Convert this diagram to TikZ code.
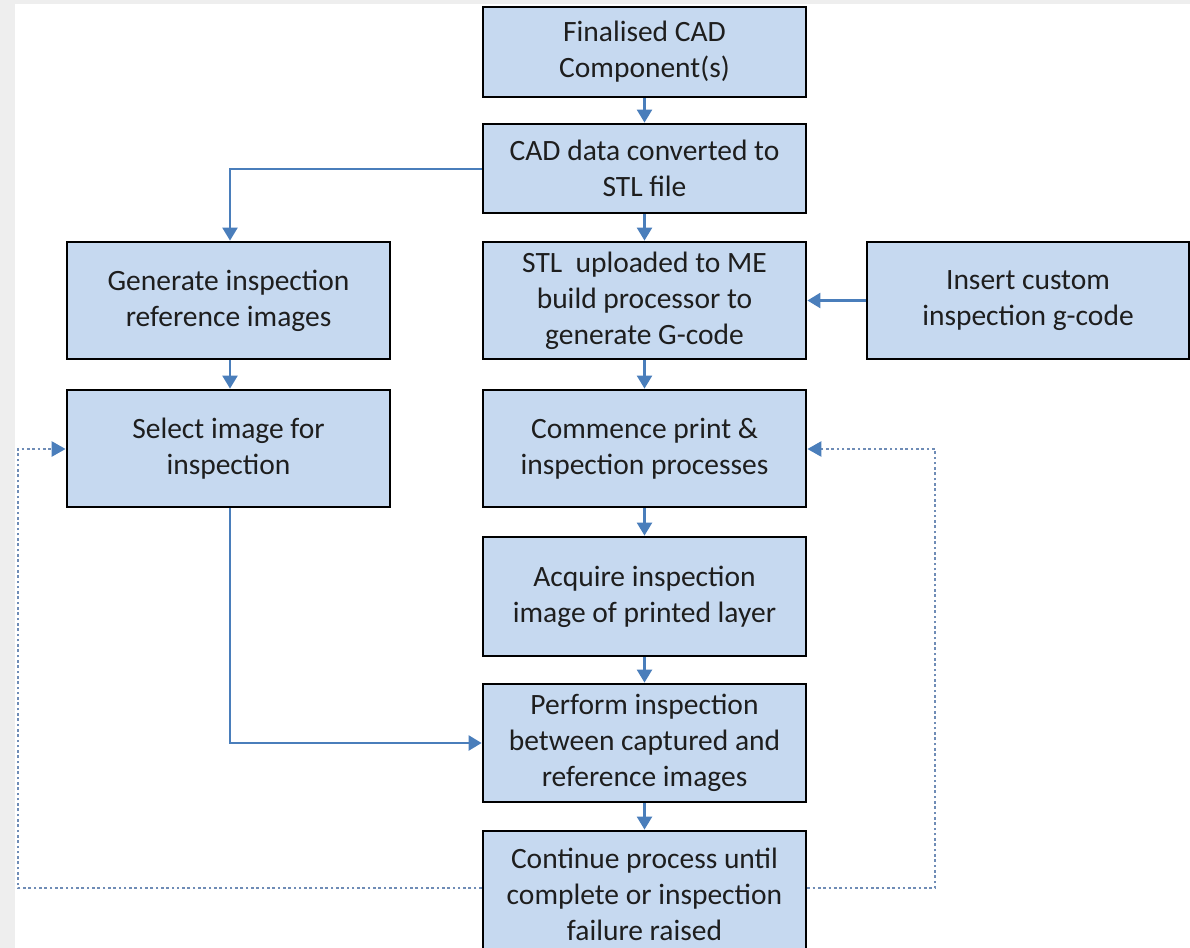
\documentclass[tikz,border=0pt]{standalone}
\usepackage{fontspec}
\setmainfont{Carlito}
\usetikzlibrary{arrows.meta}
\definecolor{boxfill}{HTML}{C6D9F0}
\definecolor{arrowblue}{HTML}{4A7EBB}
\definecolor{dotblue}{HTML}{6F8CB6}
\definecolor{bggray}{HTML}{EEEEEE}
\definecolor{txt}{HTML}{1E1E1E}
\tikzset{
  box/.style={draw=black, line width=2.8bp, fill=boxfill, minimum width=323bp,
    align=center, text=txt, inner sep=2bp,
    font=\fontsize{29.5bp}{36bp}\selectfont},
  flow/.style={draw=arrowblue, line width=2.4bp, -{Triangle[width=15bp,length=13bp]}},
  loopback/.style={draw=dotblue, line width=2.6bp, dash pattern=on 2.6bp off 2.7bp,
    -{Triangle[width=15bp,length=14bp,color=arrowblue]}}
}
\begin{document}
\begin{tikzpicture}[x=1bp,y=-1bp]
\useasboundingbox (0,0) rectangle (1190,948);
\fill[bggray] (0,0) rectangle (1190,948);
\fill[white] (15,4) rectangle (1190,948);

\node[box, minimum height=90bp] (b1) at (644.5,52) {Finalised CAD\\Component(s)};
\node[box, minimum height=89bp] (b2) at (644.5,168.5) {CAD data converted to\\STL file};
\node[box, minimum height=117bp] (b3) at (644.5,300.5) {STL\ \ uploaded to ME\\build processor to\\generate G-code};
\node[box, minimum height=117bp] (b4) at (644.5,448.5) {Commence print \&\\inspection processes};
\node[box, minimum height=119bp] (b5) at (644.5,596.5) {Acquire inspection\\image of printed layer};
\node[box, minimum height=118bp] (b6) at (644.5,743) {Perform inspection\\between captured and\\reference images};
\node[box, minimum height=126bp] (b7) at (644.5,894) {Continue process until\\complete or inspection\\failure raised};

\node[box, minimum height=117bp] (l1) at (228.5,300.5) {Generate inspection\\reference images};
\node[box, minimum height=117bp] (l2) at (228.5,448.5) {Select image for\\inspection};

\node[box, minimum height=117bp, minimum width=322bp] (r1) at (1028,300.5) {Insert custom\\inspection g-code};

\coordinate (lc) at (230,169);
\coordinate (lb) at (230,743);
\coordinate (dl1) at (18,888);
\coordinate (dl2) at (18,449);
\coordinate (dr1) at (935,888);
\coordinate (dr2) at (935,449);

\draw[flow] (b1.south) -- (b2.north);
\draw[flow] (b2.south) -- (b3.north);
\draw[flow] (b3.south) -- (b4.north);
\draw[flow] (b4.south) -- (b5.north);
\draw[flow] (b5.south) -- (b6.north);
\draw[flow] (b6.south) -- (b7.north);
\draw[flow] (b2.west |- lc) -- (lc) -- (lc |- l1.north);
\draw[flow] (l1.south -| lc) -- (l2.north -| lc);
\draw[flow] (l2.south -| lc) -- (lb) -- (b6.west |- lb);
\draw[flow] (r1.west) -- (b3.east);

\draw[loopback] (b7.west |- dl1) -- (dl1) -- (dl2) -- (l2.west |- dl2);
\draw[loopback] (b7.east |- dr1) -- (dr1) -- (dr2) -- (b4.east |- dr2);
\end{tikzpicture}
\end{document}
